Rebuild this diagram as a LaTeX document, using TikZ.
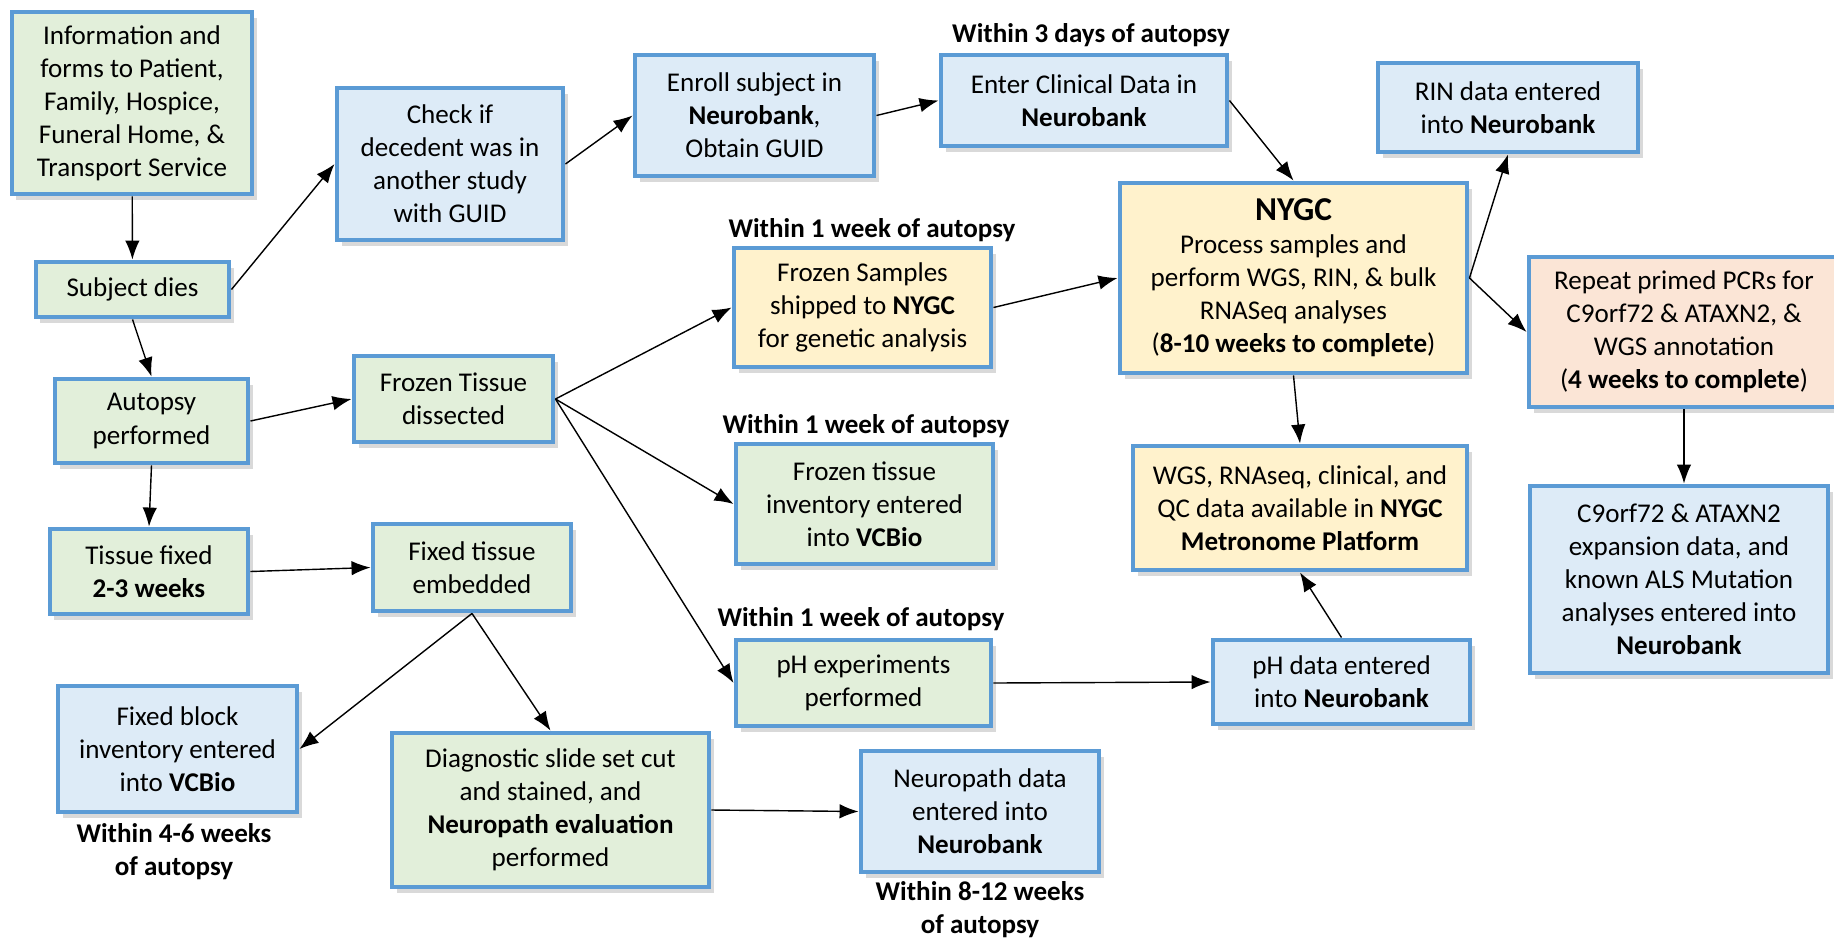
\documentclass[tikz,border=0pt]{standalone}
\usepackage{fontspec}
\setmainfont{Carlito}
\usetikzlibrary{arrows.meta,shadows}
\definecolor{boxblue}{RGB}{91,155,213}
\definecolor{tissuegreen}{RGB}{226,239,218}
\definecolor{datablue}{RGB}{221,235,247}
\definecolor{nygcyellow}{RGB}{255,242,204}
\definecolor{pcrsalmon}{RGB}{251,229,214}
\tikzset{
  box/.style={rectangle, draw=boxblue, line width=2.8pt, align=center, inner sep=0pt,
    font=\fontsize{15.4}{18.8}\selectfont,
    drop shadow={opacity=0.3, shadow xshift=0.09cm, shadow yshift=-0.11cm}},
  greenbox/.style={box, fill=tissuegreen},
  bluebox/.style={box, fill=datablue},
  yellowbox/.style={box, fill=nygcyellow},
  salmonbox/.style={box, fill=pcrsalmon},
  timelabel/.style={align=center, font=\bfseries\fontsize{15.4}{18.8}\selectfont},
  flow/.style={-{Latex[length=3.8mm,width=2.9mm]}, line width=0.8pt}
}

\begin{document}
\begin{tikzpicture}
\useasboundingbox (0,0) rectangle (36.68,-18.78);

% Left column
\node[greenbox, minimum width=4.8cm, minimum height=3.64cm] (info) at (2.64,-2.06) {Information and\\forms to Patient,\\Family, Hospice,\\Funeral Home, \&\\Transport Service};
\node[greenbox, minimum width=3.86cm, minimum height=1.1cm] (dies) at (2.65,-5.79) {Subject dies};
\node[greenbox, minimum width=3.86cm, minimum height=1.68cm] (autopsy) at (3.03,-8.42) {Autopsy\\performed};
\node[greenbox, minimum width=3.96cm, minimum height=1.7cm] (tfixed) at (2.98,-11.43) {Tissue fixed\\\textbf{2-3 weeks}};
\node[bluebox, minimum width=4.78cm, minimum height=2.52cm] (block) at (3.55,-14.98) {Fixed block\\inventory entered\\into \textbf{VCBio}};
\node[timelabel] (l46) at (3.48,-17.04) {Within 4-6 weeks\\of autopsy};

% Second column
\node[bluebox, minimum width=4.52cm, minimum height=3.04cm] (check) at (9.0,-3.28) {Check if\\decedent was in\\another study\\with GUID};
\node[greenbox, minimum width=3.98cm, minimum height=1.72cm] (ftissue) at (9.07,-7.98) {Frozen Tissue\\dissected};
\node[greenbox, minimum width=3.96cm, minimum height=1.74cm] (embedded) at (9.44,-11.35) {Fixed tissue\\embedded};
\node[greenbox, minimum width=6.34cm, minimum height=3.08cm] (diag) at (11.01,-16.2) {Diagnostic slide set cut\\and stained, and\\\textbf{Neuropath evaluation}\\performed};

% Third column
\node[bluebox, minimum width=4.78cm, minimum height=2.42cm] (enroll) at (15.09,-2.31) {Enroll subject in\\\textbf{Neurobank},\\Obtain GUID};
\node[yellowbox, minimum width=5.14cm, minimum height=2.38cm] (samples) at (17.25,-6.15) {Frozen Samples\\shipped to \textbf{NYGC}\\for genetic analysis};
\node[timelabel] (lweeka) at (17.44,-4.6) {Within 1 week of autopsy};
\node[greenbox, minimum width=5.14cm, minimum height=2.4cm] (finventory) at (17.29,-10.08) {Frozen tissue\\inventory entered\\into \textbf{VCBio}};
\node[timelabel] (lweekb) at (17.32,-8.52) {Within 1 week of autopsy};
\node[greenbox, minimum width=5.1cm, minimum height=1.72cm] (phexp) at (17.27,-13.66) {pH experiments\\performed};
\node[timelabel] (lweekc) at (17.22,-12.38) {Within 1 week of autopsy};
\node[bluebox, minimum width=4.76cm, minimum height=2.42cm] (neuropath) at (19.6,-16.23) {Neuropath data\\entered into\\\textbf{Neurobank}};
\node[timelabel] (l812) at (19.6,-18.19) {Within 8-12 weeks\\of autopsy};

% Fourth column
\node[bluebox, minimum width=5.72cm, minimum height=1.82cm] (clinical) at (21.68,-2.01) {Enter Clinical Data in\\\textbf{Neurobank}};
\node[timelabel] (l3days) at (21.82,-0.7) {Within 3 days of autopsy};
\node[yellowbox, minimum width=6.94cm, minimum height=3.8cm] (nygc) at (25.87,-5.56) {{\bfseries\fontsize{19}{23}\selectfont NYGC}\\Process samples and\\perform WGS, RIN, \& bulk\\RNASeq analyses\\(\textbf{8-10 weeks to complete})};
\node[yellowbox, minimum width=6.68cm, minimum height=2.48cm] (wgs) at (26.0,-10.16) {WGS, RNAseq, clinical, and\\QC data available in \textbf{NYGC}\\\textbf{Metronome Platform}};
\node[bluebox, minimum width=5.14cm, minimum height=1.68cm] (phdata) at (26.83,-13.64) {pH data entered\\into \textbf{Neurobank}};

% Right column
\node[bluebox, minimum width=5.2cm, minimum height=1.78cm] (rin) at (30.16,-2.15) {RIN data entered\\into \textbf{Neurobank}};
\node[salmonbox, minimum width=6.2cm, minimum height=3.0cm] (repeat) at (33.68,-6.64) {Repeat primed PCRs for\\C9orf72 \& ATAXN2, \&\\WGS annotation\\(\textbf{4 weeks to complete})};
\node[bluebox, minimum width=5.96cm, minimum height=3.74cm] (c9) at (33.58,-11.59) {C9orf72 \& ATAXN2\\expansion data, and\\known ALS Mutation\\analyses entered into\\\textbf{Neurobank}};

% Connections
\draw[flow] (info) -- (dies);
\draw[flow] (dies.east) -- (check.west);
\draw[flow] (check.east) -- (enroll.west);
\draw[flow] (enroll.east) -- (clinical.west);
\draw[flow] (clinical.east) -- (nygc.north);
\draw[flow] (dies.south) -- (autopsy.north);
\draw[flow] (autopsy.east) -- (ftissue.west);
\draw[flow] (autopsy.south) -- (tfixed.north);
\draw[flow] (tfixed.east) -- (embedded.west);

\draw[flow] (ftissue.east) -- (samples.west);
\draw[flow] (ftissue.east) -- (finventory.west);
\draw[flow] (ftissue.east) -- (phexp.west);
\draw[flow] (samples.east) -- (nygc.west);
\draw[flow] (nygc.east) -- (rin.south);
\draw[flow] (nygc.east) -- (repeat.west);
\draw[flow] (nygc.south) -- (wgs.north);
\draw[flow] (phexp.east) -- (phdata.west);
\draw[flow] (phdata.north) -- (wgs.south);
\draw[flow] (repeat.south) -- (repeat.south |- c9.north);

\draw[flow] (embedded.south) -- (block.east);
\draw[flow] (embedded.south) -- (diag.north);
\draw[flow] (diag.east) -- (neuropath.west);
\end{tikzpicture}
\end{document}
